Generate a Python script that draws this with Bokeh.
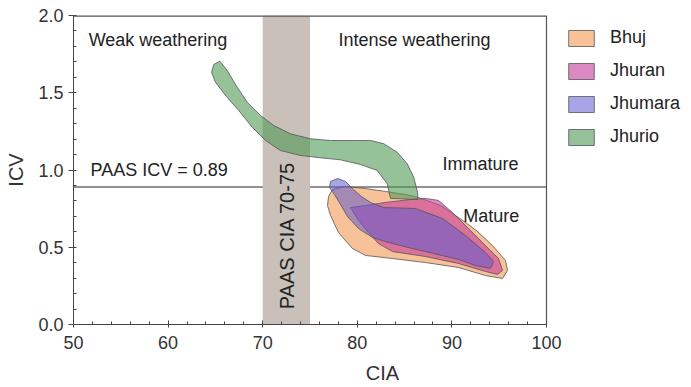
import math
from bokeh.plotting import figure
from bokeh.models import Range1d, SingleIntervalTicker, NumeralTickFormatter, Legend, LegendItem
from bokeh.core.properties import value
from bokeh.embed import file_html
from bokeh.resources import INLINE

# ---- data (CIA, ICV) ----
bhuj_cia = [76.96, 77.38, 78.75, 80.87, 82.98, 85.10, 86.47, 88.79, 90.70, 92.60, 94.29, 95.67,
            95.88, 95.35, 93.55, 90.70, 87.21, 83.72, 80.87, 79.49, 78.01, 77.17, 76.85]
bhuj_icv = [0.828, 0.874, 0.893, 0.880, 0.861, 0.841, 0.822, 0.770, 0.693, 0.608, 0.511, 0.414,
            0.350, 0.298, 0.317, 0.369, 0.401, 0.427, 0.447, 0.492, 0.595, 0.706, 0.770]

jhuran_cia = [79.28, 80.87, 82.98, 85.62, 87.21, 88.58, 90.06, 91.75, 93.55, 94.93, 95.35, 94.82,
              93.55, 90.70, 87.21, 83.72, 82.24, 81.18, 80.13]
jhuran_icv = [0.757, 0.770, 0.790, 0.809, 0.816, 0.803, 0.725, 0.621, 0.511, 0.427, 0.350, 0.324,
              0.343, 0.395, 0.440, 0.472, 0.524, 0.595, 0.673]

jhumara_cia = [77.17, 77.91, 78.75, 79.60, 80.44, 81.40, 82.77, 86.15, 89.01, 91.44, 93.55, 94.40,
               94.08, 92.50, 90.70, 87.21, 84.57, 82.98, 81.61, 80.13, 78.96, 78.22, 77.59, 77.06]
jhumara_icv = [0.926, 0.945, 0.926, 0.874, 0.828, 0.790, 0.757, 0.751, 0.686, 0.576, 0.466, 0.408,
               0.362, 0.382, 0.421, 0.472, 0.511, 0.537, 0.563, 0.621, 0.699, 0.777, 0.841, 0.887]

jhurio_cia = [65.47, 66.25, 67.30, 68.36, 69.77, 71.17, 72.94, 75.05, 77.17, 79.63, 81.40, 82.80,
              84.22, 85.28, 85.97, 86.40, 86.36, 83.51, 83.16, 82.10, 80.34, 78.22, 76.11, 74.00,
              71.88, 70.30, 68.89, 67.47, 66.07, 65.01, 64.59, 64.83]
jhurio_icv = [1.704, 1.644, 1.536, 1.439, 1.353, 1.288, 1.234, 1.202, 1.191, 1.191, 1.191, 1.170,
              1.115, 1.040, 0.953, 0.846, 0.809, 0.816, 0.911, 0.997, 1.036, 1.066, 1.079, 1.094,
              1.126, 1.191, 1.277, 1.385, 1.482, 1.568, 1.633, 1.683]

series_names = ["Bhuj", "Jhuran", "Jhumara", "Jhurio"]
paas_icv = 0.89
paas_cia = (70, 75)
cia_limits = (50, 100)
icv_limits = (0, 2)

notes_text = ["Weak weathering", "Intense weathering", "PAAS ICV = 0.89", "Immature", "Mature"]
notes_x = [51.6, 78.0, 51.8, 89.0, 91.2]
notes_y = [1.84, 1.84, 1.0, 1.04, 0.705]

FONT = "Liberation Sans"
PX_PER_CIA = 9.46        # frame pixels per CIA unit
FRAME_W = 618            # frame spans to the window's right edge; legend sits in it
x_end = cia_limits[0] + FRAME_W / PX_PER_CIA

p = figure(frame_width=FRAME_W, frame_height=309,
           x_range=Range1d(cia_limits[0], x_end), y_range=Range1d(*icv_limits),
           output_backend="svg", toolbar_location=None,
           min_border_left=73, min_border_right=0, min_border_top=15, min_border_bottom=63)
p.xgrid.visible = False
p.ygrid.visible = False
p.outline_line_color = None
p.background_fill_color = "white"
p.border_fill_color = "white"

# reference line, then band
p.line(x=list(cia_limits), y=[paas_icv, paas_icv], line_color="#6e6e6e", line_width=1.5)
p.quad(left=[paas_cia[0]], right=[paas_cia[1]], bottom=[icv_limits[0]], top=[icv_limits[1]],
       fill_color="#c9c0b9", line_color=None)

outline = dict(line_color="#555555", line_width=1, line_alpha=0.8)
r_b = p.patch(bhuj_cia, bhuj_icv, fill_color="#f5a263", fill_alpha=0.65, **outline)
r_jn = p.patch(jhuran_cia, jhuran_icv, fill_color="#c43a9c", fill_alpha=0.6, **outline)
r_jm = p.patch(jhumara_cia, jhumara_icv, fill_color="#5f5bd0", fill_alpha=0.55, **outline)
r_jo = p.patch(jhurio_cia, jhurio_icv, fill_color="#4f9a55", fill_alpha=0.6, **outline)

# box border (top and right) of the plotting area
p.line(x=list(cia_limits), y=[icv_limits[1]] * 2, line_color="#555555", line_width=2.4)
p.line(x=[cia_limits[1]] * 2, y=list(icv_limits), line_color="#555555", line_width=1.2)

p.text(x=notes_x, y=notes_y, text=notes_text, text_font=value(FONT),
       text_font_size=value("18px"), text_color="#222222",
       text_align="left", text_baseline="middle")
p.text(x=[72.6], y=[0.576], text=["PAAS CIA 70-75"], angle=math.pi / 2,
       text_font=value(FONT), text_font_size=value("20px"), text_color="#222222",
       text_align="center", text_baseline="middle")

# axes
for ax in (p.xaxis, p.yaxis):
    ax.axis_line_color = "#444444"
    ax.major_tick_line_color = "#444444"
    ax.minor_tick_line_color = "#444444"
    ax.major_label_text_font = FONT
    ax.major_label_text_font_size = "18px"
    ax.major_label_text_color = "#333333"
    ax.axis_label_text_font = FONT
    ax.axis_label_text_font_size = "20px"
    ax.axis_label_text_font_style = "normal"
    ax.axis_label_text_color = "#333333"

p.xaxis.bounds = cia_limits
p.xaxis.axis_label = "CIA"
p.yaxis.axis_label = "ICV"
p.xaxis.ticker = SingleIntervalTicker(interval=10, num_minor_ticks=5)
p.yaxis.ticker = SingleIntervalTicker(interval=0.5, num_minor_ticks=5)
p.yaxis.formatter = NumeralTickFormatter(format="0.0")
p.xaxis.major_tick_in = 4
p.xaxis.major_tick_out = 3
p.xaxis.minor_tick_in = 3
p.xaxis.minor_tick_out = 0
p.yaxis.major_tick_in = 0
p.yaxis.major_tick_out = 5
p.yaxis.minor_tick_in = 3
p.yaxis.minor_tick_out = 0
p.xaxis.major_label_standoff = 8
p.yaxis.major_label_standoff = 5
p.xaxis.axis_label_standoff = 10
p.yaxis.axis_label_standoff = 8

legend = Legend(items=[LegendItem(label=n, renderers=[r]) for n, r in
                       zip(series_names, [r_b, r_jn, r_jm, r_jo])],
                location=(492, 177))
legend.glyph_width = 32
legend.glyph_height = 20
legend.label_height = 20
legend.spacing = 12
legend.padding = 0
legend.margin = 0
legend.label_standoff = 13
legend.label_text_font = FONT
legend.label_text_font_size = "18px"
legend.label_text_color = "#222222"
legend.border_line_color = None
legend.background_fill_alpha = 0
p.add_layout(legend)

open("out.html", "w").write(file_html(p, INLINE))
